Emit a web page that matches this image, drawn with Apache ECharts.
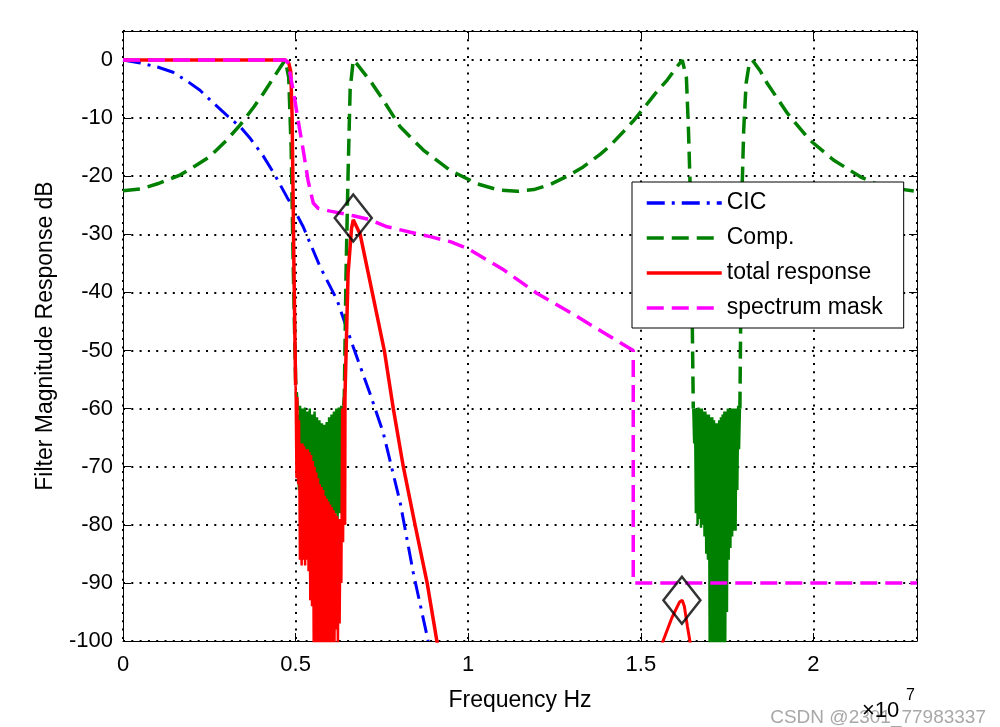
<!DOCTYPE html>
<html><head><meta charset="utf-8">
<script src="https://cdn.jsdelivr.net/npm/echarts@6/dist/echarts.min.js"></script>
<style>html,body{margin:0;padding:0;background:#fff}#c{width:1000px;height:727px}</style>
</head><body><div id="c"></div>
<script>
// ---- data (x in units of 1e7 Hz, y in dB) ----
const cic = [[0,0],[0.05,-0.5],[0.1,-1.2],[0.145,-2.1],[0.19,-3.8],[0.223,-5.2],[0.26,-7.3],[0.31,-10],[0.34,-11.5],[0.37,-13.6],[0.406,-16.5],[0.44,-19.8],[0.475,-23.6],[0.5,-26.2],[0.522,-28.7],[0.571,-35.6],[0.62,-41.3],[0.667,-49.4],[0.716,-57.5],[0.754,-64.2],[0.803,-76.2],[0.841,-88.3],[0.884,-100]];

const compA = [[0,-22.5],[0.05,-22.2],[0.1,-21.3],[0.165,-19.8],[0.21,-18.2],[0.252,-16.6],[0.3,-13.8],[0.339,-11.2],[0.38,-8],[0.406,-5.8],[0.43,-3.6],[0.455,-1.3],[0.47,0],[0.48,-3],[0.487,-15],[0.493,-35],[0.5,-55],[0.506,-61]];
const compNoise1 = [[0.506,-61],[0.5095,-74],[0.513,-59.5],[0.5165,-76],[0.52,-60],[0.5235,-75],[0.527,-59.8],[0.5305,-77],[0.534,-60.5],[0.5375,-76],[0.541,-60],[0.5445,-78],[0.548,-61],[0.5515,-77],[0.555,-60.5],[0.5585,-78],[0.562,-61.5],[0.5655,-77],[0.569,-62],[0.5725,-78],[0.576,-62.5],[0.5795,-78],[0.583,-62.8],[0.5865,-78],[0.59,-62.3],[0.5935,-79],[0.597,-61.5],[0.6005,-78],[0.604,-61],[0.6075,-79],[0.611,-60.5],[0.6145,-78],[0.618,-60],[0.6215,-79],[0.625,-59.8],[0.6285,-78],[0.632,-59.5],[0.6355,-77],[0.639,-59.5]];
const compB = [[0.639,-59.5],[0.641,-58],[0.646,-37],[0.652,-19.5],[0.658,-5],[0.667,0],[0.678,-0.7],[0.72,-3.9],[0.754,-6.9],[0.803,-11.5],[0.87,-15.5],[0.948,-19],[1.026,-21.3],[1.09,-22.4],[1.142,-22.6],[1.19,-22.3],[1.238,-21.4],[1.29,-19.9],[1.333,-18.4],[1.383,-16.2],[1.41,-14.8],[1.45,-12.3],[1.478,-10.5],[1.507,-8.4],[1.54,-5.9],[1.577,-3.4],[1.6,-1.5],[1.62,0],[1.632,-3],[1.638,-12],[1.643,-22],[1.648,-40],[1.652,-60]];
const compNoise2 = [[1.652,-60],[1.6545,-66],[1.657,-60],[1.6595,-78],[1.662,-60],[1.6645,-80],[1.667,-59.8],[1.6695,-79],[1.672,-60],[1.6745,-80.5],[1.677,-60],[1.6795,-80],[1.682,-60.5],[1.6845,-82],[1.687,-60.5],[1.6895,-85],[1.692,-61],[1.6945,-86],[1.697,-61],[1.6995,-101],[1.702,-61.5],[1.7045,-101],[1.707,-61.5],[1.7095,-101],[1.712,-62],[1.7145,-101],[1.717,-62.5],[1.7195,-101],[1.722,-62.5],[1.7245,-101],[1.727,-62],[1.7295,-101],[1.732,-61.5],[1.7345,-101],[1.737,-61],[1.7395,-101],[1.742,-60.5],[1.7445,-101],[1.747,-60.5],[1.7495,-95],[1.752,-60],[1.7545,-86],[1.757,-60],[1.7595,-84],[1.762,-60],[1.7645,-82],[1.767,-60],[1.7695,-81],[1.772,-60],[1.7745,-81],[1.777,-60],[1.7795,-74],[1.782,-59.5],[1.7845,-67],[1.787,-60]];
const compC = [[1.787,-60],[1.79,-40],[1.793,-23],[1.798,-12],[1.805,-4],[1.813,-1],[1.823,0],[1.845,-1.8],[1.866,-4],[1.9,-7],[1.925,-9.2],[1.99,-13.8],[2.058,-17.2],[2.136,-20.1],[2.2,-21.8],[2.3,-22.6]];

const totalA = [[0,0],[0.47,0],[0.48,-0.5],[0.486,-2],[0.49,-10],[0.495,-35],[0.5,-56]];
const totalNoise1 = [[0.5,-56],[0.5025,-72],[0.505,-58],[0.5075,-73],[0.51,-62],[0.5125,-86],[0.515,-66],[0.5175,-87],[0.52,-66],[0.5225,-86],[0.525,-66.5],[0.5275,-87],[0.53,-67],[0.5325,-86],[0.535,-67],[0.5375,-88],[0.54,-67.5],[0.5425,-93],[0.545,-68],[0.5475,-94],[0.55,-69],[0.5525,-101],[0.555,-70],[0.5575,-101],[0.56,-71],[0.5625,-101],[0.565,-72],[0.5675,-101],[0.57,-73],[0.5725,-101],[0.575,-73.5],[0.5775,-101],[0.58,-74],[0.5825,-101],[0.585,-75],[0.5875,-101],[0.59,-75.5],[0.5925,-101],[0.595,-76],[0.5975,-101],[0.6,-76.5],[0.6025,-101],[0.605,-77],[0.6075,-101],[0.61,-77.5],[0.6125,-101],[0.615,-78],[0.6175,-98],[0.62,-78.5],[0.6225,-101],[0.625,-79],[0.6275,-97],[0.63,-79],[0.6325,-90],[0.635,-60],[0.6375,-83],[0.64,-58],[0.642,-80]];
const totalB = [[0.642,-80],[0.643,-58],[0.652,-36.7],[0.662,-29],[0.667,-27.5],[0.687,-30],[0.722,-40],[0.757,-50],[0.783,-60],[0.812,-70],[0.846,-80],[0.881,-90],[0.912,-101]];
const totalBump = [[1.558,-101],[1.59,-96],[1.612,-93.3],[1.62,-93],[1.626,-94],[1.635,-97.5],[1.645,-101]];

const mask = [[0,0],[0.47,0],[0.478,-0.5],[0.493,-5.2],[0.507,-10.3],[0.522,-15.5],[0.536,-20.7],[0.551,-24.6],[0.565,-25.5],[0.6,-26],[0.667,-26.8],[0.716,-27.5],[0.765,-28.7],[0.83,-29.6],[0.89,-30.4],[0.95,-31.3],[0.997,-32.4],[1.1,-36],[1.2,-40.2],[1.3,-43.6],[1.4,-47.2],[1.478,-50],[1.478,-90],[2.3,-90]];

const markers = [[0.667,-27.2],[1.619,-93]];

const names = ['CIC','Comp.','total response','spectrum mask'];
const xName = 'Frequency Hz';
const yName = 'Filter Magnitude Response dB';

// ---- chart ----
const FONT = '"Liberation Sans", Arial, Helvetica, sans-serif';
const BLUE='#0000ff', GREEN='#008000', RED='#ff0000', MAG='#ff00ff';
const xFmt = v => Math.abs(v*2 - Math.round(v*2)) < 1e-6 ? String(+(+v).toFixed(1)) : '';
const yFmt = v => Math.abs(v % 10) < 1e-6 ? String(Math.round(v)) : '';
const grid = {color:'#000', width:2, type:[2,6.3]};

function xAx(pos, main){
  return {type:'value', min:0, max:2.3, interval:0.5, position:pos,
    axisLine:{show:true,onZero:false,lineStyle:{color:'#000',width:1}},
    axisTick:{show:true,inside:true,length:8,lineStyle:{color:'#000',width:1}},
    axisLabel:{show:main, formatter:xFmt, color:'#000', fontSize:22, fontFamily:FONT, margin:13},
    splitLine:{show:main, lineStyle:grid},
    name: main ? xName : '', nameLocation:'middle', nameGap:48,
    nameTextStyle:{color:'#000', fontSize:23, fontFamily:FONT}};
}
function yAx(pos, main){
  return {type:'value', min:-100, max:5, interval:10, position:pos,
    axisLine:{show:true,onZero:false,lineStyle:{color:'#000',width:1}},
    axisTick:{show:true,inside:true,length:8,lineStyle:{color:'#000',width:1}},
    axisLabel:{show:main, formatter:yFmt, color:'#000', fontSize:22, fontFamily:FONT, margin:10},
    splitLine:{show:main, lineStyle:grid},
    name: main ? yName : '', nameLocation:'middle', nameGap:66, nameRotate:90,
    nameTextStyle:{color:'#000', fontSize:23, fontFamily:FONT}};
}
function line(name, data, color, width, type){
  return {type:'line', name, data, symbol:'none', showSymbol:false, clip:true,
    lineStyle:{color, width, type}, itemStyle:{color}, silent:true, animation:false};
}
const dashCIC=[18,7,3,7], dashG=[17,8];
const option = {
  animation:false,
  backgroundColor:'#fff',
  grid:{left:123, top:31, width:794, height:610, containLabel:false},
  xAxis:[xAx('bottom',true), xAx('top',false)],
  yAxis:[yAx('left',true), yAx('right',false)],
  legend:{data:names, orient:'vertical', left:632, top:182, itemWidth:75, itemHeight:14, itemGap:9,
    padding:[8,21,7,13], backgroundColor:'#fff', borderColor:'#000', borderWidth:1, borderRadius:0,
    selectedMode:false, itemStyle:{opacity:0}, lineStyle:{width:3.5},
    textStyle:{fontSize:23, fontFamily:FONT, color:'#000', lineHeight:26}},
  series:[
    line(names[0], cic, BLUE, 3, dashCIC),
    line(names[1], compA, GREEN, 3.5, dashG),
    line('comp-n1', compNoise1, GREEN, 2.5, 'solid'),
    line('comp-b', compB, GREEN, 3.5, dashG),
    line('comp-n2', compNoise2, GREEN, 2.5, 'solid'),
    line('comp-c', compC, GREEN, 3.5, dashG),
    line(names[2], totalA, RED, 3.5, 'solid'),
    line('total-n1', totalNoise1, RED, 2.5, 'solid'),
    line('total-b', totalB, RED, 3.5, 'solid'),
    line('total-bump', totalBump, RED, 3, 'solid'),
    line(names[3], mask, MAG, 3.5, dashG),
    {type:'scatter', name:'markers', data:markers, symbol:'diamond', symbolSize:[37,47], silent:true,
      itemStyle:{color:'rgba(0,0,0,0)', borderColor:'#000', borderWidth:2.5}, z:5}
  ],
  graphic:[
    {type:'text', left:862, top:700, silent:true, style:{text:'×10', fill:'#000', font:'22px '+FONT}},
    {type:'text', left:906, top:688, silent:true, style:{text:'7', fill:'#000', font:'16px '+FONT}},
    {type:'text', right:14, top:708, silent:true, z:-1, style:{text:'CSDN @2301_77983337', fill:'#a8a8a8', font:'19px '+FONT}}
  ]
};
const chart = echarts.init(document.getElementById('c'), null, {renderer:'canvas'});
chart.setOption(option);
</script></body></html>
